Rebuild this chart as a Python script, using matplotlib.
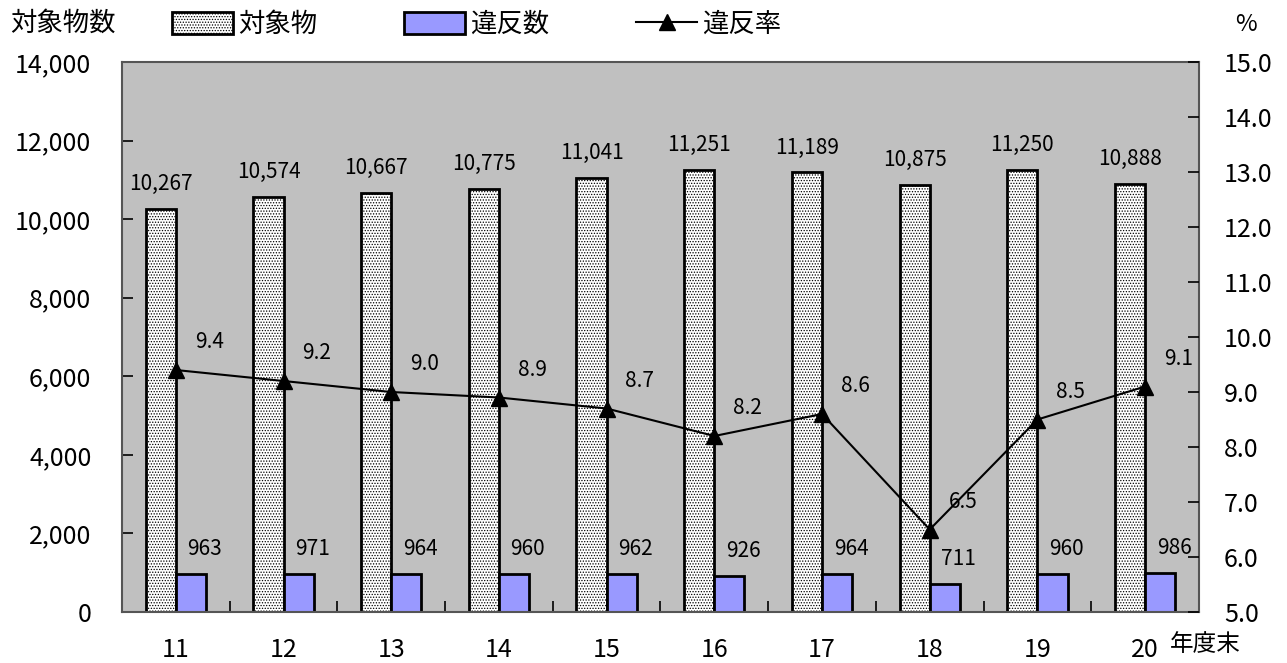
import matplotlib.pyplot as plt
from matplotlib.patches import Patch
from matplotlib.lines import Line2D
from matplotlib.ticker import FuncFormatter, FixedLocator

plt.rcParams['font.family'] = ['Noto Sans CJK JP', 'DejaVu Sans']
plt.rcParams['hatch.color'] = '#666666'
plt.rcParams['hatch.linewidth'] = 0.6

years = ['11', '12', '13', '14', '15', '16', '17', '18', '19', '20']
objects = [10267, 10574, 10667, 10775, 11041, 11251, 11189, 10875, 11250, 10888]
violations = [963, 971, 964, 960, 962, 926, 964, 711, 960, 986]
rates = [9.4, 9.2, 9.0, 8.9, 8.7, 8.2, 8.6, 6.5, 8.5, 9.1]

x = list(range(len(years)))
width = 0.28

fig = plt.figure(figsize=(12.87, 6.63), dpi=100)
ax = fig.add_axes([0.0948, 0.0769, 0.8368, 0.8296])
ax.set_facecolor('#c0c0c0')

ax.bar([i - width / 2 for i in x], objects, width, color='white', hatch='......',
       edgecolor='black', linewidth=2, zorder=2)
ax.bar([i + width / 2 for i in x], violations, width, color='#9999ff',
       edgecolor='black', linewidth=2, zorder=2)

ax.set_xlim(-0.5, len(years) - 0.5)
ax.set_ylim(0, 14000)
ax.set_yticks(range(0, 14001, 2000))
ax.yaxis.set_major_formatter(FuncFormatter(lambda v, p: f'{int(v):,}'))
ax.set_xticks(x)
ax.set_xticklabels(years)
ax.xaxis.set_minor_locator(FixedLocator([i + 0.5 for i in x[:-1]]))
ax.tick_params(axis='x', which='major', length=0, pad=18, labelsize=18)
ax.tick_params(axis='x', which='minor', direction='in', length=8, width=1.2)
ax.tick_params(axis='y', direction='in', length=8, width=1.2, labelsize=18, pad=22)

for s in ax.spines.values():
    s.set_color('#555555')
    s.set_linewidth(1.5)

for i in x:
    ax.annotate(f'{objects[i]:,}', (i - width / 2, objects[i]), xytext=(0, 10),
                textcoords='offset points', ha='center', va='bottom', fontsize=15)
    ax.annotate(f'{violations[i]:,}', (i + width / 2, violations[i]), xytext=(10, 10),
                textcoords='offset points', ha='center', va='bottom', fontsize=15)

ax2 = ax.twinx()
ax2.set_ylim(5.0, 15.0)
ax2.set_yticks([5.0 + k for k in range(11)])
ax2.yaxis.set_major_formatter(FuncFormatter(lambda v, p: f'{v:.1f}'))
ax2.tick_params(axis='y', direction='in', length=8, width=1.2, labelsize=18, pad=18)
for s in ax2.spines.values():
    s.set_visible(False)
ax2.plot(x, rates, color='black', marker='^', markersize=11, linewidth=1.5, zorder=3)
for i in x:
    ax2.annotate(f'{rates[i]:.1f}', (i, rates[i]), xytext=(24, 12),
                 textcoords='offset points', ha='center', va='bottom', fontsize=15)

fig.text(0.008, 0.965, '対象物数', fontsize=19, ha='left', va='center')
fig.text(0.968, 0.963, '%', fontsize=17, ha='center', va='center')
fig.text(0.909, 0.028, '年度末', fontsize=17, ha='left', va='center')

handles = [
    Patch(facecolor='white', hatch='......', edgecolor='black', linewidth=2),
    Patch(facecolor='#9999ff', edgecolor='black', linewidth=2),
    Line2D([0], [0], color='black', marker='^', markersize=11, linewidth=1.5),
]
fig.legend(handles, ['対象物', '違反数', '違反率'], ncol=3, frameon=False,
           loc='center left', bbox_to_anchor=(0.1336, 0.963), fontsize=19,
           handlelength=2.3, handleheight=0.9, handletextpad=0.2, columnspacing=3.3,
           borderaxespad=0, borderpad=0)

fig.savefig('out.png', dpi=100)
